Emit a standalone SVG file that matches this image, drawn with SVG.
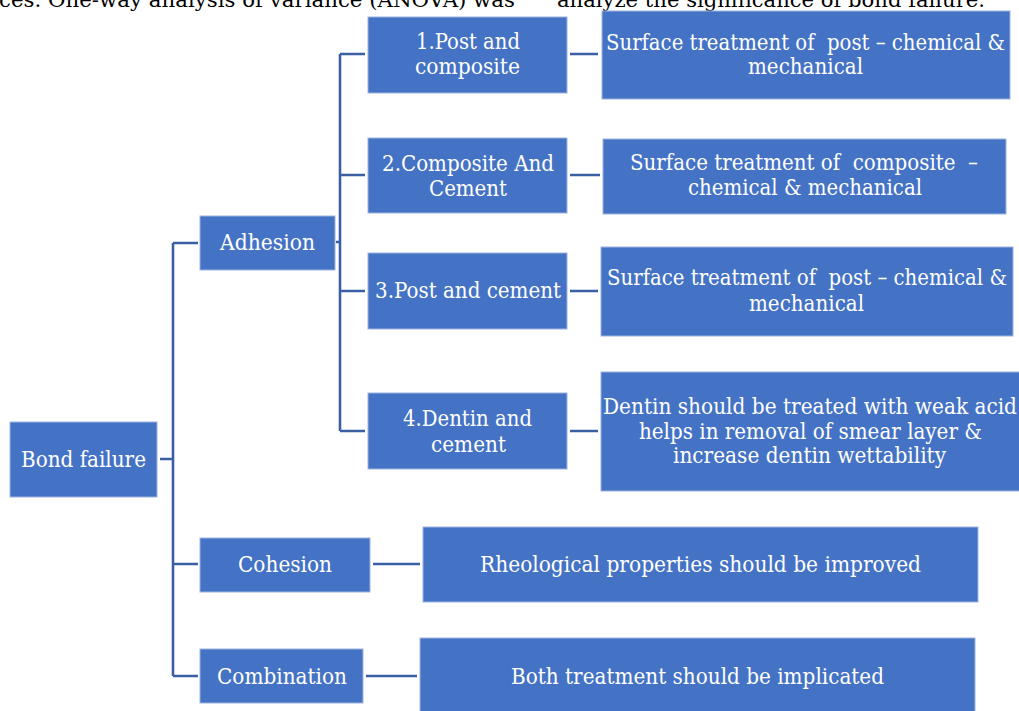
<svg xmlns="http://www.w3.org/2000/svg" width="1019" height="711" viewBox="0 0 1019 711">
<style>
.box{fill:#4472C4;stroke:#9DB4E0;stroke-width:1}
.t{fill:#FFFFFF;font-family:"DejaVu Serif","Liberation Serif",serif;font-size:21.5px;text-anchor:middle;white-space:pre}
.c{fill:none;stroke:#3B5FA3;stroke-width:2.6}
.top{fill:#000000;font-family:"DejaVu Serif","Liberation Serif",serif;font-size:21px}
</style>
<rect width="1019" height="711" fill="#FFFFFF"/>
<text class="top" x="0" y="7"><tspan x="-1" textLength="516" lengthAdjust="spacingAndGlyphs">ces. One-way analysis of variance (ANOVA) was</tspan><tspan x="557" textLength="428" lengthAdjust="spacingAndGlyphs">analyze the significance of bond failure.</tspan></text>
<g id="connectors">
<path class="c" d="M160 459 H173 M173 243 V676 M173 243 H198 M173 564 H198 M173 676 H198"/>
<path class="c" d="M336 242 H340 M340 54 V431 M340 54 H365 M340 175 H365 M340 291 H365 M340 431 H365"/>
<path class="c" d="M570 54 H598 M570 175 H600 M570 291 H598 M570 431 H598"/>
<path class="c" d="M373 564 H420 M366 676 H417"/>
</g>
<g id="bond-failure"><rect class="box" x="10" y="422" width="147" height="75"/><text class="t" x="83.5" y="467" textLength="125" lengthAdjust="spacingAndGlyphs">Bond failure</text></g>
<g id="adhesion"><rect class="box" x="200" y="216" width="135" height="54"/><text class="t" x="267.5" y="250" textLength="95" lengthAdjust="spacingAndGlyphs">Adhesion</text></g>
<g id="cohesion"><rect class="box" x="200" y="538" width="170" height="54"/><text class="t" x="285" y="572" textLength="94" lengthAdjust="spacingAndGlyphs">Cohesion</text></g>
<g id="combination"><rect class="box" x="200" y="649" width="163" height="54"/><text class="t" x="282" y="684" textLength="130" lengthAdjust="spacingAndGlyphs">Combination</text></g>
<g id="post-composite"><rect class="box" x="368" y="17" width="199" height="76"/><text class="t" x="468" y="49" textLength="104" lengthAdjust="spacingAndGlyphs">1.Post and</text><text class="t" x="467.5" y="74" textLength="105" lengthAdjust="spacingAndGlyphs">composite</text></g>
<g id="composite-cement"><rect class="box" x="368" y="138" width="199" height="75"/><text class="t" x="468" y="171" textLength="172" lengthAdjust="spacingAndGlyphs">2.Composite And</text><text class="t" x="468" y="196" textLength="78" lengthAdjust="spacingAndGlyphs">Cement</text></g>
<g id="post-cement"><rect class="box" x="368" y="253" width="199" height="76"/><text class="t" x="468" y="298" textLength="186" lengthAdjust="spacingAndGlyphs">3.Post and cement</text></g>
<g id="dentin-cement"><rect class="box" x="368" y="393" width="199" height="76"/><text class="t" x="467.5" y="426" textLength="129" lengthAdjust="spacingAndGlyphs">4.Dentin and</text><text class="t" x="468.5" y="452" textLength="75" lengthAdjust="spacingAndGlyphs">cement</text></g>
<g id="surface-post-1"><rect class="box" x="602" y="11" width="408" height="88"/><text class="t" x="805.5" y="50" textLength="399" lengthAdjust="spacingAndGlyphs">Surface treatment of  post – chemical &amp;</text><text class="t" x="805.5" y="74" textLength="115" lengthAdjust="spacingAndGlyphs">mechanical</text></g>
<g id="surface-composite"><rect class="box" x="603" y="139" width="403" height="75"/><text class="t" x="804" y="170" textLength="348" lengthAdjust="spacingAndGlyphs">Surface treatment of  composite  –</text><text class="t" x="805" y="195" textLength="234" lengthAdjust="spacingAndGlyphs">chemical &amp; mechanical</text></g>
<g id="surface-post-2"><rect class="box" x="601" y="247" width="412" height="89"/><text class="t" x="807" y="285" textLength="400" lengthAdjust="spacingAndGlyphs">Surface treatment of  post – chemical &amp;</text><text class="t" x="806.5" y="311" textLength="115" lengthAdjust="spacingAndGlyphs">mechanical</text></g>
<g id="dentin-treatment"><rect class="box" x="601" y="372" width="420" height="119"/><text class="t" x="810" y="414" textLength="414" lengthAdjust="spacingAndGlyphs">Dentin should be treated with weak acid</text><text class="t" x="810.5" y="439" textLength="343" lengthAdjust="spacingAndGlyphs">helps in removal of smear layer &amp;</text><text class="t" x="809.5" y="463" textLength="273" lengthAdjust="spacingAndGlyphs">increase dentin wettability</text></g>
<g id="rheological"><rect class="box" x="423" y="527" width="555" height="75"/><text class="t" x="700.5" y="572" textLength="441" lengthAdjust="spacingAndGlyphs">Rheological properties should be improved</text></g>
<g id="both-treatment"><rect class="box" x="420" y="638" width="555" height="75"/><text class="t" x="697.5" y="684" textLength="373" lengthAdjust="spacingAndGlyphs">Both treatment should be implicated</text></g>
</svg>
